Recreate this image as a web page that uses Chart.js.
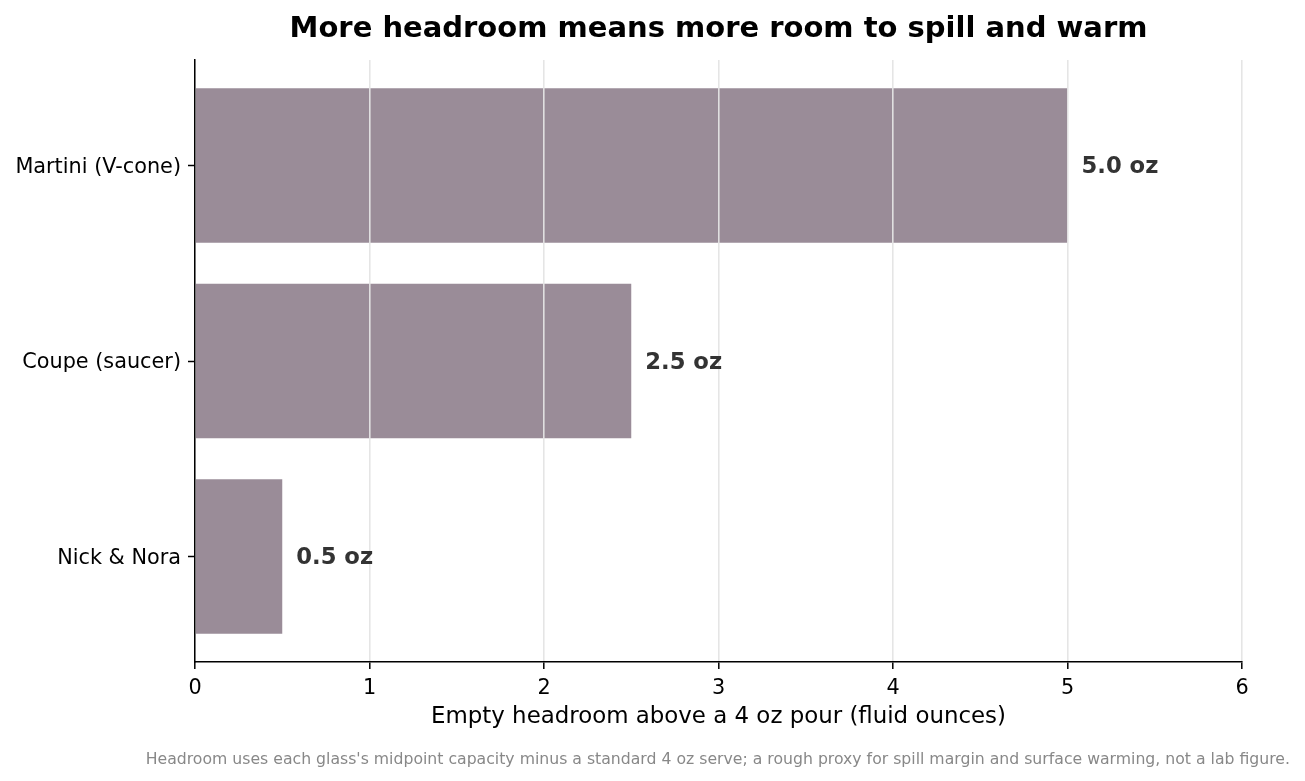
<!DOCTYPE html>
<html>
<head>
<meta charset="utf-8">
<script src="https://cdn.jsdelivr.net/npm/chart.js@4/dist/chart.umd.min.js"></script>
<style>
  body { margin: 0; background: #fff; }
  canvas { display: block; }
</style>
</head>
<body>
<canvas id="chart_headroom" width="1305" height="781"></canvas>
<script>
// glasses bottom -> top, like matplotlib barh
var glasses = ["Nick & Nora", "Coupe (saucer)", "Martini (V-cone)"];
var headroom = [0.5, 2.5, 5.0];
var xTicks = [0, 1, 2, 3, 4, 5, 6];

var titleText = "More headroom means more room to spill and warm";
var xTitle = "Empty headroom above a 4 oz pour (fluid ounces)";
var footnote = "Headroom uses each glass's midpoint capacity minus a standard 4 oz serve; a rough proxy for spill margin and surface warming, not a lab figure.";

var FONT = "'DejaVu Sans', sans-serif";

var points = glasses.map(function (g, i) {
    return { x: headroom[i], y: i };
});

// title, footnote and the "5.0 oz" labels, drawn last so they sit over the grid
var textPlugin = {
    id: 'texts',
    afterDraw: function (chart) {
        var c = chart.ctx, a = chart.chartArea;
        var meta = chart.getDatasetMeta(0);
        var xs = chart.scales.x;
        c.save();
        c.fillStyle = '#000';
        c.font = "bold 29px " + FONT;
        c.textAlign = 'center';
        c.textBaseline = 'middle';
        c.fillText(titleText, (a.left + a.right) / 2, 29);

        c.fillStyle = '#333333';
        c.font = "bold 22.7px " + FONT;
        c.textAlign = 'left';
        meta.data.forEach(function (bar, i) {
            c.fillText(headroom[i].toFixed(1) + ' oz', xs.getPixelForValue(headroom[i]) + 14, bar.y + 2);
        });

        c.fillStyle = '#888';
        c.font = "15.7px " + FONT;
        c.textAlign = 'right';
        c.fillText(footnote, 1290, 760);
        c.restore();
    }
};

var ctx = document.getElementById("chart_headroom");
var chart = new Chart(ctx, {
    type: 'bar',
    data: {
        datasets: [{
            data: points,
            backgroundColor: '#9a8c98',
            borderWidth: 0,
            barPercentage: 0.79,
            categoryPercentage: 1.0
        }]
    },
    options: {
        indexAxis: 'y',
        responsive: false,
        animation: false,
        layout: { padding: { left: 0, right: 63, top: 60, bottom: 0 } },
        plugins: {
            legend: { display: false },
            tooltip: { enabled: false },
            title: { display: false }
        },
        scales: {
            x: {
                type: 'linear',
                min: xTicks[0],
                max: xTicks[xTicks.length - 1],
                afterBuildTicks: function (s) {
                    s.ticks = xTicks.map(function (v) { return { value: v }; });
                },
                afterFit: function (s) { s.height = 119; },
                grid: {
                    z: 1,   // grid drawn over the bars, as in the original
                    color: 'rgba(228,228,228,0.95)',
                    lineWidth: 1.6,
                    drawOnChartArea: true,
                    tickLength: 7,
                    tickColor: '#000',
                    tickWidth: 1.5
                },
                border: { display: true, color: '#000', width: 1.5, z: 2 },
                ticks: {
                    color: '#000',
                    padding: 7,
                    font: { family: FONT, size: 20.8 }
                },
                title: {
                    display: true,
                    text: xTitle,
                    color: '#000',
                    font: { family: FONT, size: 22.9 },
                    padding: { top: 0, bottom: 50 }
                }
            },
            y: {
                type: 'linear',
                min: -0.54,
                max: glasses.length - 1 + 0.54,
                offset: false,
                afterFit: function (s) { s.width = 195; },
                afterBuildTicks: function (s) {
                    s.ticks = glasses.map(function (g, i) { return { value: i }; });
                },
                grid: {
                    offset: false,
                    drawOnChartArea: false,
                    tickLength: 7,
                    tickColor: '#000',
                    tickWidth: 1.5
                },
                border: { display: true, color: '#000', width: 1.5, z: 2 },
                ticks: {
                    color: '#000',
                    padding: 7,
                    labelOffset: 2,
                    font: { family: FONT, size: 20.8 },
                    callback: function (v) {
                        return glasses[v];
                    }
                }
            }
        }
    },
    plugins: [textPlugin]
});
</script>
</body>
</html>
